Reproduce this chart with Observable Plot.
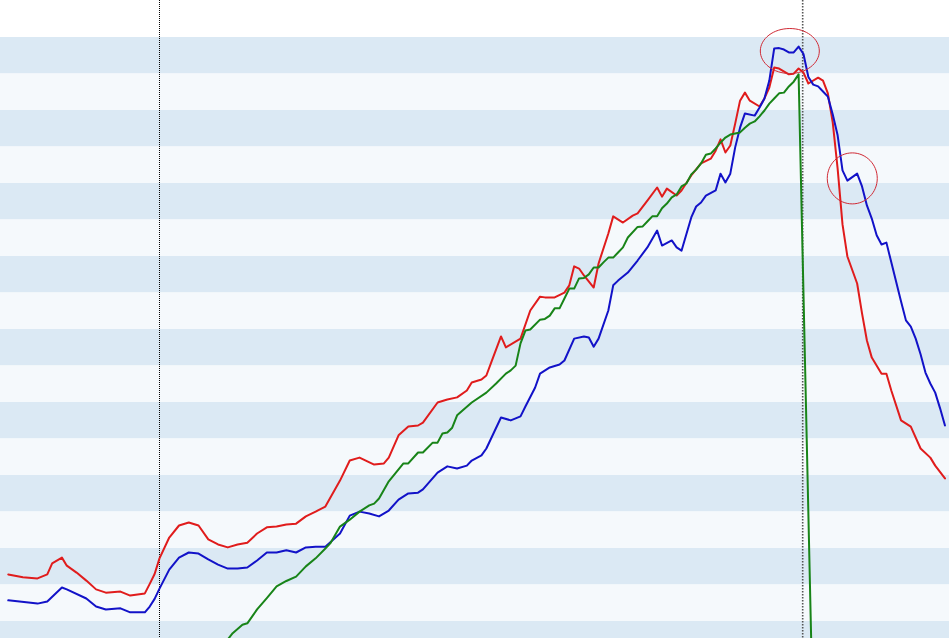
<!DOCTYPE html>
<html>
<head>
<meta charset="utf-8">
<script src="https://cdn.jsdelivr.net/npm/d3@7"></script>
<script src="https://cdn.jsdelivr.net/npm/@observablehq/plot@0.6"></script>
<style>
  html, body { margin: 0; padding: 0; background: #ffffff; }
  #chart svg { display: block; }
</style>
</head>
<body>
<div id="chart"></div>
<script>
// x: month index (0 = Jan 1993), y: index level
const red = [[5,22.9],[8,22.1],[11,21.8],[13,22.9],[14,25.9],[16,27.5],[17,25.3],[19,23.4],[21,21.2],[23,18.8],[25,17.9],[28,18.2],[30,17.1],[33,17.7],[34,20.3],[35,23.0],[36,27.3],[38,33.0],[40,36.3],[42,37.1],[44,36.3],[46,32.5],[48,31.1],[50,30.3],[52,31.1],[54,31.6],[56,34.1],[58,35.8],[60,36.0],[62,36.6],[64,36.8],[66,38.8],[68,40.1],[70,41.5],[73,48.6],[75,54.1],[77,54.9],[80,53.0],[82,53.3],[83,54.9],[85,61.0],[87,63.4],[89,63.7],[90,64.5],[93,70.0],[95,70.8],[97,71.4],[99,73.3],[100,75.5],[102,76.3],[103,77.4],[104,81.0],[106,88.1],[107,85.1],[110,87.5],[112,95.2],[114,99.0],[115,98.8],[117,98.8],[119,100.1],[120,102.1],[121,107.3],[122,106.7],[123,104.8],[125,101.5],[126,108.1],[128,116.3],[129,121.0],[131,119.3],[133,121.2],[134,121.8],[136,125.3],[138,128.9],[139,126.4],[140,128.6],[142,126.7],[143,128.1],[145,132.2],[147,135.5],[149,136.8],[150,139.0],[151,142.1],[152,138.5],[153,140.4],[154,146.4],[155,152.7],[156,154.9],[157,152.7],[159,151.1],[160,153.3],[161,156.3],[162,161.8],[163,161.5],[165,159.9],[166,160.1],[167,161.5],[168,160.4],[169,157.4],[171,159.0],[172,158.2],[173,154.7],[174,146.7],[175,134.1],[176,118.8],[177,110.0],[179,102.6],[180,94.4],[181,87.0],[182,82.3],[184,77.9],[185,77.9],[186,73.3],[188,65.1],[190,63.4],[192,57.4],[194,54.9],[195,52.7],[197,49.2]];

const blue = [[5,15.8],[11,14.9],[13,15.5],[16,19.3],[17,18.8],[21,16.3],[23,14.1],[25,13.3],[28,13.6],[30,12.5],[33,12.5],[34,14.1],[35,16.2],[36,19.0],[38,24.2],[40,27.5],[42,28.9],[44,28.6],[46,27.0],[48,25.6],[50,24.5],[52,24.5],[54,24.8],[56,26.7],[58,28.9],[60,28.9],[62,29.5],[64,28.9],[66,30.3],[68,30.5],[70,30.5],[73,34.1],[75,39.0],[77,40.1],[79,39.6],[81,38.8],[83,40.4],[85,43.4],[87,45.1],[89,45.3],[90,46.2],[93,50.8],[95,52.5],[97,51.9],[99,52.7],[100,54.1],[102,55.5],[103,57.4],[106,65.9],[108,65.1],[110,66.2],[111,68.9],[113,74.1],[114,77.9],[116,79.6],[118,80.4],[119,81.5],[121,87.5],[123,88.1],[124,87.8],[125,85.3],[126,87.5],[128,95.2],[129,102.1],[130,103.4],[132,105.6],[134,108.9],[136,112.5],[138,117.1],[139,113.0],[141,114.4],[142,112.5],[143,111.6],[145,120.7],[146,123.7],[147,124.8],[148,126.7],[150,128.1],[151,132.7],[152,130.3],[153,132.7],[154,139.9],[155,145.3],[156,149.2],[158,148.6],[159,150.8],[160,153.3],[161,158.2],[162,167.0],[163,167.1],[164,166.7],[165,165.9],[166,165.9],[167,167.5],[168,165.5],[169,159.2],[170,157.1],[171,156.6],[172,155.2],[173,153.8],[174,148.9],[175,143.2],[176,133.6],[177,130.8],[179,132.7],[180,129.2],[181,124.0],[182,120.4],[183,115.8],[184,113.3],[185,113.8],[186,108.4],[188,97.7],[189,92.5],[190,90.8],[191,87.5],[192,83.2],[193,78.2],[194,75.2],[195,72.7],[196,68.4],[197,63.7]];

const green = [[49,3.4],[50,5.1],[51,6.8],[53,9.1],[54,9.5],[56,13.3],[58,16.4],[60,19.6],[62,21.1],[64,22.3],[66,25.1],[68,27.3],[70,30.0],[71,31.4],[73,36.0],[75,37.9],[77,40.1],[79,41.8],[80,42.3],[81,43.7],[83,48.4],[86,53.3],[87,53.3],[89,56.3],[90,56.3],[92,59.0],[93,59.0],[94,61.5],[95,61.8],[96,63.1],[97,66.5],[100,70.0],[103,72.7],[105,75.2],[107,77.9],[108,78.8],[109,80.1],[110,86.2],[111,89.7],[112,90.0],[114,92.7],[115,92.9],[116,93.8],[117,95.8],[118,95.8],[119,98.5],[120,101.2],[121,101.2],[122,104.0],[123,104.1],[124,105.1],[125,107.0],[126,107.0],[127,108.4],[128,109.7],[129,109.7],[130,111.1],[131,112.5],[132,115.2],[134,118.1],[135,118.2],[136,119.6],[137,121.0],[138,121.0],[139,123.2],[140,124.5],[141,126.2],[142,127.0],[143,129.2],[144,130.0],[145,132.5],[146,133.8],[147,135.5],[148,137.9],[149,138.2],[150,139.6],[151,141.2],[152,142.6],[153,143.4],[154,143.7],[155,144.0],[156,145.3],[157,146.4],[158,147.0],[159,148.4],[160,150.0],[161,151.9],[162,153.3],[163,154.7],[164,154.9],[165,156.6],[166,157.9],[167,159.9],[170,-20.4]];

// background bands (lower edges, each 10 units tall)
const darkBands = [0, 20, 40, 60, 80, 100, 120, 140, 160];
const lightBands = [10, 30, 50, 70, 90, 110, 130, 150];
const bandSize = 10;

// vertical markers (month index)
const markerBlack = [36];
const markerGrey = [168];

// highlight ellipses: [month, level]
const peakMark = [[165.2, 166.3]];
const bumpMark = [[178.0, 131.4]];

const xDomain = [3.41, 197.93];
const yDomain = [5.34, 180.14];

function ellipseSymbol(rx, ry) {
  const k = 0.5522847;
  return {
    draw(ctx) {
      ctx.moveTo(rx, 0);
      ctx.bezierCurveTo(rx, ry * k, rx * k, ry, 0, ry);
      ctx.bezierCurveTo(-rx * k, ry, -rx, ry * k, -rx, 0);
      ctx.bezierCurveTo(-rx, -ry * k, -rx * k, -ry, 0, -ry);
      ctx.bezierCurveTo(rx * k, -ry, rx, -ry * k, rx, 0);
      ctx.closePath();
    }
  };
}

const chart = Plot.plot({
  width: 949,
  height: 638,
  marginTop: 0, marginRight: 0, marginBottom: 0, marginLeft: 0,
  style: {background: "#ffffff"},
  x: {type: "linear", domain: xDomain, axis: null},
  y: {type: "linear", domain: yDomain, axis: null},
  marks: [
    Plot.rect(darkBands, {x1: () => xDomain[0], x2: () => xDomain[1], y1: d => d, y2: d => d + bandSize, fill: "#dbe9f4"}),
    Plot.rect(lightBands, {x1: () => xDomain[0], x2: () => xDomain[1], y1: d => d, y2: d => d + bandSize, fill: "#f5f9fc"}),
    Plot.ruleX(markerBlack, {stroke: "#000000", strokeWidth: 1, strokeDasharray: "1,1"}),
    Plot.ruleX(markerGrey, {stroke: "#555555", strokeWidth: 1.6, strokeDasharray: "1.6,1.4", dx: -0.8}),
    Plot.line(red, {x: d => d[0], y: d => d[1], stroke: "#e01c1c", strokeWidth: 2, clip: true}),
    Plot.line(blue, {x: d => d[0], y: d => d[1], stroke: "#1212c8", strokeWidth: 2, clip: true}),
    Plot.line(green, {x: d => d[0], y: d => d[1], stroke: "#188418", strokeWidth: 2, clip: true}),
    Plot.dot(peakMark, {x: d => d[0], y: d => d[1], r: 20, symbol: ellipseSymbol(29.5, 22.5), fill: "none", stroke: "#d02a35", strokeWidth: 1}),
    Plot.dot(bumpMark, {x: d => d[0], y: d => d[1], r: 20, symbol: ellipseSymbol(25, 25.5), fill: "none", stroke: "#d02a35", strokeWidth: 1})
  ]
});
document.getElementById("chart").appendChild(chart);
</script>
</body>
</html>
